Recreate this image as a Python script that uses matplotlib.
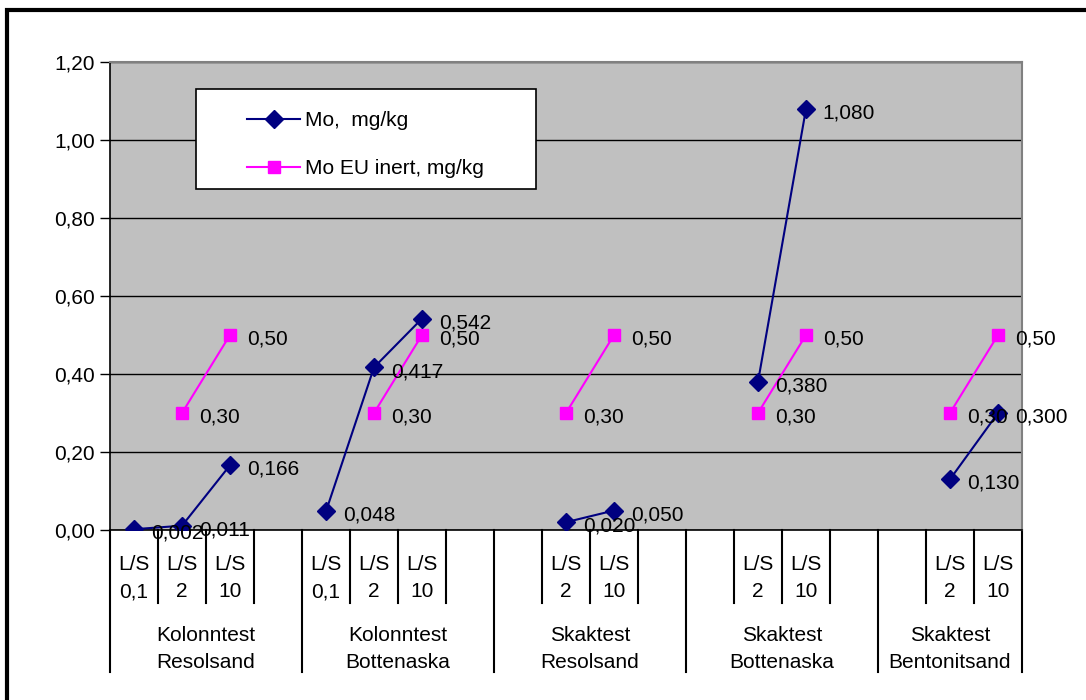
import numpy as np
import matplotlib
matplotlib.use('Agg')
import matplotlib.pyplot as plt
from matplotlib.patches import Rectangle

plt.rcParams['font.family'] = ['Liberation Sans', 'DejaVu Sans']

# data
nan = np.nan
ls_labels = ['L/S\n0,1', 'L/S\n2', 'L/S\n10', '',
             'L/S\n0,1', 'L/S\n2', 'L/S\n10', '',
             '', 'L/S\n2', 'L/S\n10', '',
             '', 'L/S\n2', 'L/S\n10', '',
             '', 'L/S\n2', 'L/S\n10']
groups = ['Kolonntest\nResolsand', 'Kolonntest\nBottenaska', 'Skaktest\nResolsand',
          'Skaktest\nBottenaska', 'Skaktest\nBentonitsand']
group_sizes = [4, 4, 4, 4, 3]
mo = [0.002, 0.011, 0.166, nan,
      0.048, 0.417, 0.542, nan,
      nan, 0.020, 0.050, nan,
      nan, 0.380, 1.080, nan,
      nan, 0.130, 0.300]
mo_eu = [nan, 0.30, 0.50, nan,
         nan, 0.30, 0.50, nan,
         nan, 0.30, 0.50, nan,
         nan, 0.30, 0.50, nan,
         nan, 0.30, 0.50]

fs = 15
fig = plt.figure(figsize=(10.86, 7.0), dpi=100)
ax = fig.add_axes([110/1086, 1-530/700, 912/1086, 468/700])
ax.set_facecolor('#C0C0C0')

x = np.arange(len(ls_labels))
ax.plot(x, mo, color='#000080', lw=1.5, marker='D', ms=9.5, mfc='#000080', mec='#000080',
        label='Mo,  mg/kg', zorder=4)
ax.plot(x, mo_eu, color='#FF00FF', lw=1.5, marker='s', ms=9, mfc='#FF00FF', mec='#FF00FF',
        label='Mo EU inert, mg/kg', zorder=3)

for xi, v in zip(x, mo_eu):
    if not np.isnan(v):
        ax.annotate(f'{v:.2f}'.replace('.', ','), (xi, v), xytext=(12, -3),
                    textcoords='offset points', ha='left', va='center', fontsize=fs,
                    annotation_clip=False, zorder=5)
for xi, v in zip(x, mo):
    if not np.isnan(v):
        ax.annotate(f'{v:.3f}'.replace('.', ','), (xi, v), xytext=(12, -3),
                    textcoords='offset points', ha='left', va='center', fontsize=fs,
                    annotation_clip=False, zorder=5)

ax.set_xlim(-0.5, len(ls_labels) - 0.5)
ax.set_ylim(0, 1.2)
ax.set_yticks(np.arange(0, 1.21, 0.2))
ax.set_yticklabels([f'{t:.2f}'.replace('.', ',') for t in np.arange(0, 1.21, 0.2)], fontsize=fs)
ax.tick_params(axis='y', length=7, width=1, direction='out', pad=4)
ax.set_xticks([])
ax.grid(axis='y', color='black', lw=1)
ax.set_axisbelow(True)
for s in ['top', 'right']:
    ax.spines[s].set_color('#808080')
    ax.spines[s].set_linewidth(1.5)
for s in ['left', 'bottom']:
    ax.spines[s].set_color('black')
    ax.spines[s].set_linewidth(1.2)

# multi-level category axis
trans = ax.get_xaxis_transform()
short_y = -73/468
long_y = -142/468
bounds = np.cumsum([0] + group_sizes)
for k in range(len(ls_labels) + 1):
    yb = long_y if k in bounds else short_y
    ax.plot([k - 0.5, k - 0.5], [0, yb], color='black', lw=1.5, transform=trans, clip_on=False)
for xi, lab in zip(x, ls_labels):
    ax.text(xi, -48/468, lab, transform=trans, ha='center', va='center', fontsize=fs,
            linespacing=1.58)
for g, (a, b) in enumerate(zip(bounds[:-1], bounds[1:])):
    ax.text((a + b - 1) / 2, -119/468, groups[g], transform=trans, ha='center', va='center',
            fontsize=fs, linespacing=1.47)

# legend box drawn by hand, entries placed inside it
ax.add_patch(Rectangle((86/912, 1-127/468), 340/912, 100/468, transform=ax.transAxes,
                       facecolor='white', edgecolor='black', lw=1.2, zorder=6))
leg = ax.legend(loc='center left', bbox_to_anchor=(137/912, 1-82.5/468), fontsize=fs,
                frameon=False, borderpad=0, labelspacing=1.4, handlelength=2.55,
                handletextpad=0.25, borderaxespad=0)
leg.set_zorder(7)

# outer chart border
fig.patches.append(Rectangle((7/1086, -0.05), 1.2, 1 - 10/700 + 0.05, transform=fig.transFigure,
                             fill=False, edgecolor='black', lw=3))

fig.savefig('out.png', dpi=100)
